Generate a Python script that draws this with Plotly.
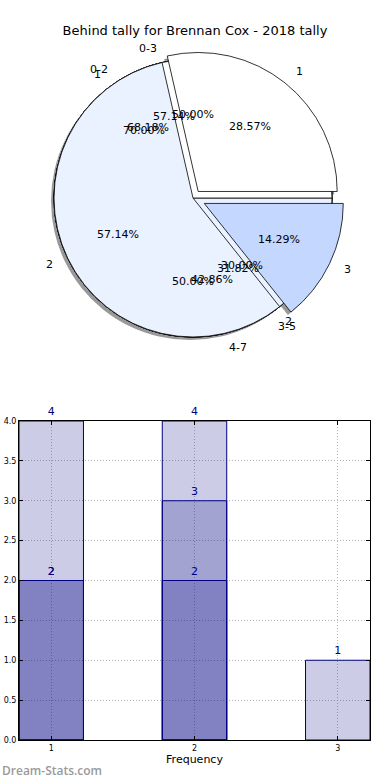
import math
import plotly.graph_objects as go

W, H = 390, 780

title_text = "Behind tally for Brennan Cox - 2018 tally"

# ---- pie data ----
main_labels = ["1", "2", "3"]
main_values = [2, 4, 1]
main_pull = [0.06, 0.0, 0.09]
main_colors = ["#ffffff", "#eaf1ff", "#c4d8ff"]

pie_a_labels = ["0-3", "4-7"]
pie_a_values = [4, 3]
pie_b_labels = ["0-2", "3-5"]
pie_b_values = [15, 7]
pie_c_labels = ["1", "2"]
pie_c_values = [7, 3]
pie_d_labels = ["1", "2"]
pie_d_values = [1, 1]
hidden_colors = ["#ffffff", "#eaf1ff"]

# ---- bar data ----
bar_categories = [1, 2, 3]
bar_total = [4, 4, 1]
bar_mid_categories = [1, 2]
bar_mid = [2, 3]
bar_low_categories = [1, 2]
bar_low = [2, 2]
x_tick_labels = ["1", "2", "3"]
x_title = "Frequency"
watermark = "Dream-Stats.com"

FONT = "DejaVu Sans"

# ---- pie geometry (pixels) ----
CX, CY, R = 193, 198, 139


def pie_domain(maxpull, dx=0.0, dy=0.0):
    half = R * (1 + maxpull)
    return dict(
        x=[(CX + dx - half) / W, (CX + dx + half) / W],
        y=[(H - (CY + dy) - half) / H, (H - (CY + dy) + half) / H],
    )


main_max = max(main_pull)

fig = go.Figure()


def pie(labels, values, colors, pull, domain, line):
    # slices laid out counterclockwise from 3 o'clock (matplotlib style):
    # reversed order drawn clockwise from 3 o'clock gives the same layout
    return go.Pie(
        labels=labels[::-1], values=values[::-1],
        pull=(pull[::-1] if pull else None),
        sort=False, direction="clockwise", rotation=90,
        marker=dict(colors=colors[::-1], line=line),
        textinfo="none", hoverinfo="skip", showlegend=False,
        domain=domain,
    )


edge = dict(color="black", width=0.8)

# shadow of the main pie
fig.add_trace(pie(main_labels, main_values, ["rgba(70,70,70,0.55)"] * 3,
                  main_pull, pie_domain(main_max, dx=-3, dy=3), dict(width=0)))

# the hidden pies underneath
for labs, vals in [(pie_d_labels, pie_d_values), (pie_c_labels, pie_c_values),
                   (pie_b_labels, pie_b_values), (pie_a_labels, pie_a_values)]:
    fig.add_trace(pie(labs, vals, hidden_colors, None, pie_domain(0.0), edge))

# main pie
fig.add_trace(pie(main_labels, main_values, main_colors, main_pull,
                  pie_domain(main_max), edge))

# ---- pie texts (matplotlib-style positions computed from values) ----
annotations = []


def add_pie_text(labels, values, explode):
    total = float(sum(values))
    t1 = 0.0
    for lab, v, e in zip(labels, values, explode):
        t2 = t1 + 360.0 * v / total
        tm = math.radians((t1 + t2) / 2)
        c, s = math.cos(tm), math.sin(tm)
        annotations.append(dict(
            x=(1.1 + e) * c, y=(1.1 + e) * s, text=lab,
            xref="x2", yref="y2", showarrow=False,
            xanchor=("left" if c >= -1e-9 else "right"), yanchor="middle",
            font=dict(family=FONT, size=11, color="black")))
        annotations.append(dict(
            x=(0.6 + e) * c, y=(0.6 + e) * s,
            text="%.2f%%" % (100.0 * v / total),
            xref="x2", yref="y2", showarrow=False,
            xanchor="center", yanchor="middle",
            font=dict(family=FONT, size=11, color="black")))
        t1 = t2


add_pie_text(main_labels, main_values, main_pull)
add_pie_text(pie_a_labels, pie_a_values, [0, 0])
add_pie_text(pie_b_labels, pie_b_values, [0, 0])
add_pie_text(pie_c_labels, pie_c_values, [0, 0])
add_pie_text(pie_d_labels, pie_d_values, [0, 0])

# invisible anchor for the text axes
fig.add_trace(go.Scatter(x=[0], y=[0], mode="markers", marker=dict(opacity=0),
                         hoverinfo="skip", showlegend=False,
                         xaxis="x2", yaxis="y2"))

# ---- bars ----
bar_face = "rgba(0,0,128,0.2)"
for xs, ys in [(bar_categories, bar_total), (bar_mid_categories, bar_mid),
               (bar_low_categories, bar_low)]:
    fig.add_trace(go.Bar(
        x=xs, y=ys, width=0.45,
        marker=dict(color=bar_face, line=dict(color="#000080", width=1)),
        text=[str(v) for v in ys], textposition="outside",
        textfont=dict(family=FONT, size=11, color="#000080"),
        cliponaxis=False, showlegend=False, hoverinfo="skip",
        xaxis="x", yaxis="y",
    ))

pd_main = pie_domain(main_max)
axis_common = dict(
    showline=True, linecolor="black", linewidth=1, mirror="ticks",
    ticks="inside", ticklen=4, tickcolor="black",
    tickfont=dict(family=FONT, size=8, color="black"),
    showgrid=True, gridcolor="#b4b4b4", griddash="1px,2px", gridwidth=1,
    zeroline=False, automargin=False,
)

annotations.append(dict(text=watermark, x=0, y=(H - 770) / H, xref="paper",
                        yref="paper", xanchor="left", yanchor="middle",
                        showarrow=False,
                        font=dict(family="Open Sans", size=12, color="#9a9a9a",
                                  weight=600)))

fig.update_layout(
    width=W, height=H,
    margin=dict(l=0, r=0, t=0, b=0, autoexpand=False),
    paper_bgcolor="white", plot_bgcolor="white",
    barmode="overlay",
    title=dict(text=title_text, x=0.5, xanchor="center",
               y=1 - 30 / H, yanchor="middle",
               font=dict(family=FONT, size=13, color="black")),
    xaxis=dict(domain=[19 / W, 370 / W], range=[0.775, 3.225],
               tickvals=bar_categories, ticktext=x_tick_labels,
               title=dict(text=x_title, standoff=2,
                          font=dict(family=FONT, size=11, color="black")),
               anchor="y", **axis_common),
    yaxis=dict(domain=[40 / H, 359 / H], range=[0, 4], dtick=0.5,
               tickformat=".1f", anchor="x", **axis_common),
    xaxis2=dict(domain=pd_main["x"], range=[-(1 + main_max), 1 + main_max],
                visible=False, anchor="y2", fixedrange=True, automargin=False),
    yaxis2=dict(domain=pd_main["y"], range=[-(1 + main_max), 1 + main_max],
                visible=False, anchor="x2", fixedrange=True, automargin=False),
    annotations=annotations,
)

fig.write_html("out.html", config={"displayModeBar": False},
               post_script="document.body.style.margin='0';"
                           "document.body.style.overflow='hidden';")
